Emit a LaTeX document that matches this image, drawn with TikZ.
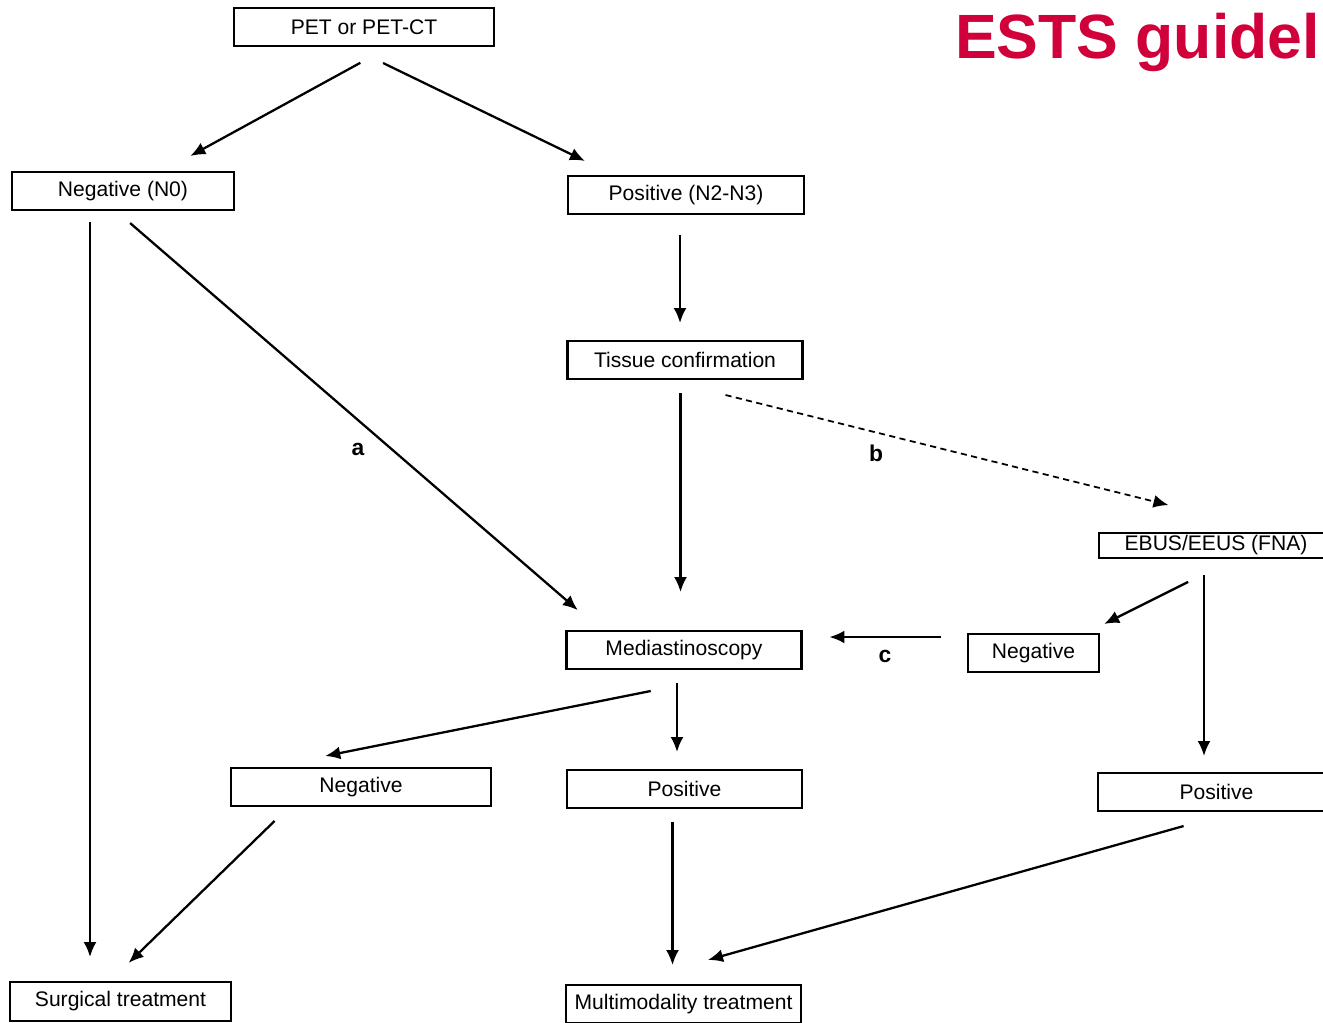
\documentclass[tikz,border=0pt]{standalone}
\usepackage{fontspec}
\setmainfont{Liberation Sans}
\usetikzlibrary{arrows.meta}
\definecolor{estsred}{RGB}{208,0,58}

\begin{document}
\begin{tikzpicture}[x=0.02cm,y=-0.02cm,inner sep=0pt,outer sep=0pt,line width=1.3pt,
flowbox/.style={draw,rectangle,minimum height=0.76cm,font=\fontsize{12}{14}\selectfont},
lbl/.style={font=\fontsize{13}{15}\selectfont\bfseries},
arr/.style={-{Latex[length=3mm,width=2.6mm]}}]
\useasboundingbox (0,0) rectangle (1323,1022);
\draw (955,58) node[anchor=base west,text=estsred,font=\fontsize{35.6}{40}\selectfont\bfseries] (title) {ESTS guidel};
% boxes
\draw (364,27) node[flowbox,minimum width=5.2cm] (pet) {PET or PET-CT};
\draw (123,191) node[flowbox,minimum width=4.44cm] (neg0) {Negative (N0)};
\draw (686,195) node[flowbox,minimum width=4.72cm] (pos) {Positive (N2-N3)};
\draw (685,360) node[flowbox,minimum width=4.7cm] (tissue) {Tissue confirmation};
\draw (1216,545.5) node[flowbox,minimum width=4.68cm,minimum height=0.5cm] (ebus) {EBUS/EEUS (FNA)};
\draw (684,650) node[flowbox,minimum width=4.7cm] (med) {Mediastinoscopy};
\draw (1033.5,653) node[flowbox,minimum width=2.62cm] (negR) {Negative};
\draw (361,787) node[flowbox,minimum width=5.2cm] (negL) {Negative};
\draw (684.5,789) node[flowbox,minimum width=4.7cm] (posM) {Positive};
\draw (1216.5,792) node[flowbox,minimum width=4.74cm] (posR) {Positive};
\draw (120.5,1001.5) node[flowbox,minimum width=4.42cm,minimum height=0.78cm] (surg) {Surgical treatment};
\draw (683.5,1004) node[flowbox,minimum width=4.7cm] (multi) {Multimodality treatment};
% labels
\draw (358,449) node[lbl] (la) {a};
\draw (876,453) node[lbl] (lb) {b};
\draw (885,656) node[lbl] (lc) {c};
% arrows
\draw[arr,shorten <=0.70cm,shorten >=0.67cm] (391,0 |- pet.south) -- (161,0 |- neg0.north);
\draw[arr,shorten <=0.78cm,shorten >=0.69cm] (348,0 |- pet.south) -- (616,0 |- pos.north);
\draw[arr,shorten <=0.24cm,shorten >=0.5cm] (90,0 |- neg0.south) -- (90,0 |- surg.north);
\draw[arr,shorten <=0.40cm,shorten >=0.64cm] (115,0 |- neg0.south) -- (602,0 |- med.north);
\draw[arr,shorten <=0.42cm,shorten >=0.36cm] (680,0 |- pos.south) -- (680,0 |- tissue.north);
\draw[arr,shorten <=0.28cm,shorten >=0.78cm] (680.5,0 |- tissue.south) -- (680.5,0 |- med.north);
\draw[arr,dash pattern=on 3.5pt off 2.5pt,line width=1pt,shorten <=1.33cm,shorten >=2.32cm] (661,0 |- tissue.south) -- (1281,0 |- ebus.north);
\draw[arr,shorten <=1.07cm,shorten >=0.45cm] (1236,0 |- ebus.south) -- (1084,0 |- negR.north);
\draw[arr,shorten <=0.34cm,shorten >=0.34cm] (1204,0 |- ebus.south) -- (1204,0 |- posR.north);
\draw[arr,shorten <=0.54cm,shorten >=0.56cm] (negR.west |- 0,637) -- (med.east |- 0,637);
\draw[arr,shorten <=2.25cm,shorten >=1.23cm] (761,0 |- med.south) -- (265,0 |- negL.north);
\draw[arr,shorten <=0.28cm,shorten >=0.36cm] (677,0 |- med.south) -- (677,0 |- posM.north);
\draw[arr,shorten <=0.43cm,shorten >=0.55cm] (290,0 |- negL.south) -- (109,0 |- surg.north);
\draw[arr,shorten <=0.28cm,shorten >=0.4cm] (672.5,0 |- posM.south) -- (672.5,0 |- multi.north);
\draw[arr,shorten <=1.11cm,shorten >=1.85cm] (1237,0 |- posR.south) -- (619,0 |- multi.north);
\end{tikzpicture}
\end{document}
